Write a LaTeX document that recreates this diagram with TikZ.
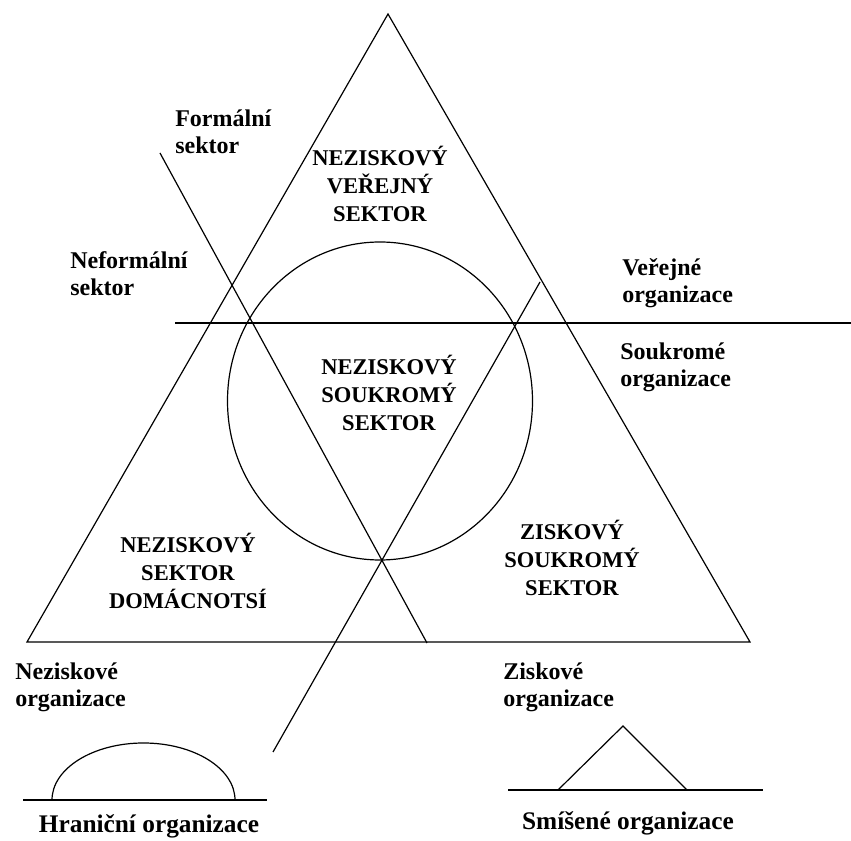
\documentclass[tikz,border=0pt]{standalone}
\usepackage{fontspec}
\setmainfont{Liberation Serif}
\usepackage{tikz}

\begin{document}
\begin{tikzpicture}[x=0.75pt,y=-0.75pt,
    sectorlabel/.style={font=\bfseries\fontsize{16.9}{21}\selectfont, align=center, inner sep=0pt},
    sidelabel/.style={font=\bfseries\fontsize{18}{20.25}\selectfont, align=left, anchor=north west, inner sep=0pt},
    orglabel/.style={font=\bfseries\fontsize{19}{22}\selectfont, anchor=base, inner sep=0pt},
    thinline/.style={black, line width=0.9pt}]

        \useasboundingbox (0,0) rectangle (851,841);

        % big triangle
        \coordinate (apex) at (388,14);
        \coordinate (baseleft) at (27,642);
        \coordinate (baseright) at (750,642);
        \draw [thinline] (apex) -- (baseleft) -- (baseright) -- cycle;

        % dividing lines
        \coordinate (publeft) at (175,323);
        \coordinate (pubright) at (851,323);
        \draw [thinline] (publeft) -- (pubright);

        \coordinate (formaltop) at (160,153);
        \coordinate (formalbottom) at (427,643);
        \draw [thinline] (formaltop) -- (formalbottom);

        \coordinate (profittop) at (540,282);
        \coordinate (profitbottom) at (273,752);
        \draw [thinline] (profittop) -- (profitbottom);

        \draw [thinline] (380,401) ellipse [x radius=152.5, y radius=159];

        % small figures below
        \draw [thinline] (23,800) -- (267,800);
        \draw [thinline] (52,800) arc [start angle=180, end angle=360, x radius=91.5, y radius=57];

        \draw [thinline] (508,790) -- (763,790);
        \draw [thinline] (558,790) -- (623,726) -- (687,790);

        \node [sectorlabel] (verejny) at (380,184) {NEZISKOVÝ\\VEŘEJNÝ\\SEKTOR};
        \node [sectorlabel] (soukromy) at (389,393) {NEZISKOVÝ\\SOUKROMÝ\\SEKTOR};
        \node [sectorlabel] (domacnosti) at (188,571) {NEZISKOVÝ\\SEKTOR\\DOMÁCNOTSÍ};
        \node [sectorlabel] (ziskovy) at (572,558) {ZISKOVÝ\\SOUKROMÝ\\SEKTOR};

        \node [sidelabel] (formalni) at (175,110) {Formální\\sektor};
        \node [sidelabel] (neformalni) at (70,251) {Neformální\\sektor};
        \node [sidelabel] (verejne) at (622,258) {Veřejné\\organizace};
        \node [sidelabel] (soukrome) at (620,343) {Soukromé\\organizace};
        \node [sidelabel] (neziskove) at (15,663) {Neziskové\\organizace};
        \node [sidelabel] (ziskove) at (503,663) {Ziskové\\organizace};

        \node [orglabel] (hranicni) at (149,833) {Hraniční organizace};
        \node [orglabel] (smisene) at (628,830) {Smíšené organizace};

\end{tikzpicture}
\end{document}
